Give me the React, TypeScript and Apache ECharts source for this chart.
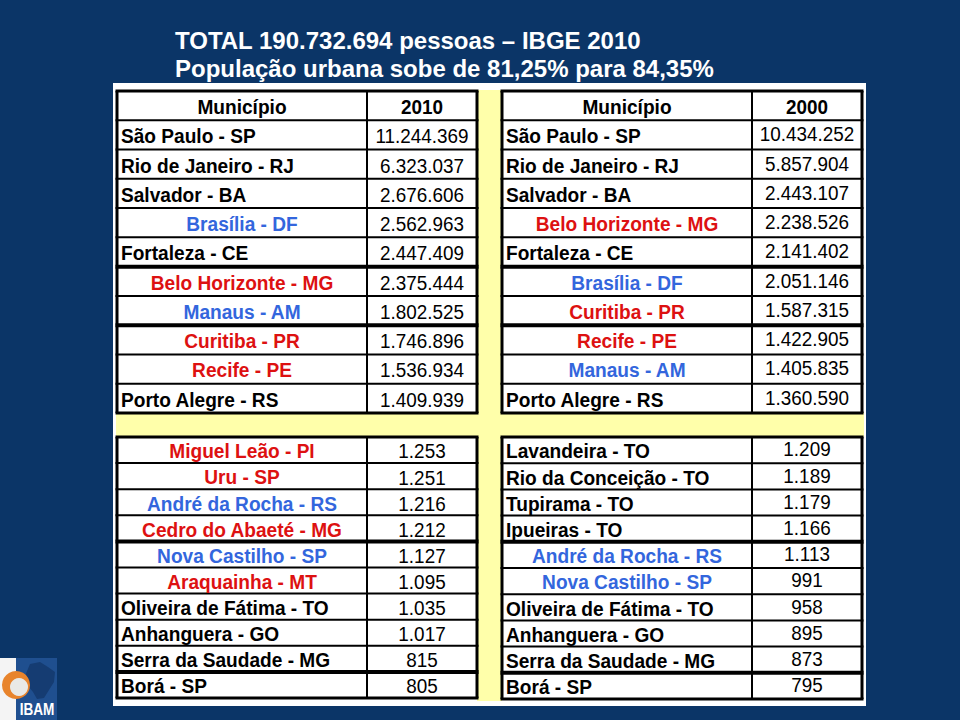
import React, { useEffect, useRef } from "react";
import * as echarts from "echarts";

// ---------- data ----------
const titleLines = [
  "TOTAL 190.732.694 pessoas – IBGE 2010",
  "População urbana sobe de 81,25% para 84,35%",
];
const nameHeader = "Município";
const year2010 = "2010";
const year2000 = "2000";

const largest2010Names = [
  "São Paulo - SP",
  "Rio de Janeiro - RJ",
  "Salvador - BA",
  "Brasília - DF",
  "Fortaleza - CE",
  "Belo Horizonte - MG",
  "Manaus - AM",
  "Curitiba - PR",
  "Recife - PE",
  "Porto Alegre - RS",
];
const largest2010Values = [11244369, 6323037, 2676606, 2562963, 2447409, 2375444, 1802525, 1746896, 1536934, 1409939];
const largest2010Groups = [5, 2, 3];

const largest2000Names = [
  "São Paulo - SP",
  "Rio de Janeiro - RJ",
  "Salvador - BA",
  "Belo Horizonte - MG",
  "Fortaleza - CE",
  "Brasília - DF",
  "Curitiba - PR",
  "Recife - PE",
  "Manaus - AM",
  "Porto Alegre - RS",
];
const largest2000Values = [10434252, 5857904, 2443107, 2238526, 2141402, 2051146, 1587315, 1422905, 1405835, 1360590];
const largest2000Groups = [5, 2, 3];

const smallest2010Names = [
  "Miguel Leão - PI",
  "Uru - SP",
  "André da Rocha - RS",
  "Cedro do Abaeté - MG",
  "Nova Castilho - SP",
  "Araquainha - MT",
  "Oliveira de Fátima - TO",
  "Anhanguera - GO",
  "Serra da Saudade - MG",
  "Borá - SP",
];
const smallest2010Values = [1253, 1251, 1216, 1212, 1127, 1095, 1035, 1017, 815, 805];
const smallest2010Groups = [4, 5, 1];

const smallest2000Names = [
  "Lavandeira - TO",
  "Rio da Conceição - TO",
  "Tupirama - TO",
  "Ipueiras - TO",
  "André da Rocha - RS",
  "Nova Castilho - SP",
  "Oliveira de Fátima - TO",
  "Anhanguera - GO",
  "Serra da Saudade - MG",
  "Borá - SP",
];
const smallest2000Values = [1209, 1189, 1179, 1166, 1113, 991, 958, 895, 873, 795];
const smallest2000Groups = [4, 5, 1];

const blueNames = ["Brasília - DF", "Manaus - AM", "André da Rocha - RS", "Nova Castilho - SP"];
const redNames = [
  "Belo Horizonte - MG",
  "Curitiba - PR",
  "Recife - PE",
  "Miguel Leão - PI",
  "Uru - SP",
  "Cedro do Abaeté - MG",
  "Araquainha - MT",
];

// ---------- styling ----------
const NAVY = "#0b3567";
const BLUE = "#3366dd";
const RED = "#dd1111";
const YELLOW = "#ffffaa";
const SPLIT = 250 / 360;
const FONT = '"Liberation Sans", Arial, Helvetica, sans-serif';

type Kind = "header" | "plain" | "blue" | "red";
type Row = { name: string; value: string; kind: Kind };

function fmt(n: number): string {
  return String(n).replace(/\B(?=(\d{3})+(?!\d))/g, ".");
}

function buildRows(names: string[], values: number[], header?: string): Row[] {
  const rows: Row[] = [];
  if (header) rows.push({ name: nameHeader, value: header, kind: "header" });
  names.forEach((n, i) =>
    rows.push({
      name: n,
      value: fmt(values[i]),
      kind: blueNames.includes(n) ? "blue" : redNames.includes(n) ? "red" : "plain",
    })
  );
  return rows;
}

function breaksFrom(groups: number[], offset: number): number[] {
  const out: number[] = [];
  let acc = offset;
  groups.slice(0, -1).forEach((g) => {
    acc += g;
    out.push(acc - 1);
  });
  return out;
}

function tableSeries(gridIndex: number, rows: Row[], breaks: number[], valueDy: number) {
  return {
    type: "custom",
    xAxisIndex: gridIndex,
    yAxisIndex: gridIndex,
    z: 5,
    silent: true,
    clip: false,
    data: rows.map((_, i) => [0, i]),
    encode: { x: 0, y: 1 },
    renderItem: (params: any, api: any) => {
      const i = params.dataIndex;
      const r = rows[i];
      const c = api.coord([0, i]);
      const s = api.size([1, 1]);
      const left = c[0];
      const w = s[0];
      const h = s[1];
      const cy = c[1];
      const top = cy - h / 2;
      const bottom = cy + h / 2;
      const mid = left + w * SPLIT;
      const right = left + w;
      const last = i === rows.length - 1;
      const line = (x1: number, y1: number, x2: number, y2: number, lw: number) => ({
        type: "line",
        z2: 5,
        shape: { x1, y1, x2, y2 },
        style: { stroke: "#000", lineWidth: lw },
      });
      const children: any[] = [
        { type: "rect", z2: 0, shape: { x: left, y: top, width: w, height: h }, style: { fill: "#ffffff" } },
        line(left, top, left, bottom, 3),
        line(mid, top, mid, bottom, 2),
        line(right, top, right, bottom, 3),
        line(left - 1.5, bottom, right + 1.5, bottom, last ? 3 : breaks.includes(i) ? 4 : 2),
      ];
      if (i === 0) children.push(line(left - 1.5, top, right + 1.5, top, 3));

      const centered = r.kind !== "plain";
      const fill = r.kind === "blue" ? BLUE : r.kind === "red" ? RED : "#000";
      const nx = centered ? (left + mid) / 2 : left + 4;
      const align = centered ? "center" : "left";
      children.push({
        type: "text",
        z2: 6,
        x: nx,
        y: cy + 1,
        scaleX: 0.91,
        style: {
          text: r.name,
          fill,
          font: `bold 21px ${FONT}`,
          align,
          verticalAlign: "middle",
          textAlign: align,
          textVerticalAlign: "middle",
        },
      });
      children.push({
        type: "text",
        z2: 6,
        x: (mid + right) / 2,
        y: cy + 1 + (r.kind === "header" ? 0 : valueDy),
        scaleX: 0.9,
        style: {
          text: r.value,
          fill: "#000",
          font: `${r.kind === "header" ? "bold " : ""}21px ${FONT}`,
          align: "center",
          verticalAlign: "middle",
          textAlign: "center",
          textVerticalAlign: "middle",
        },
      });
      return { type: "group", children };
    },
  };
}

export default function App() {
  const ref = useRef<HTMLDivElement>(null);

  useEffect(() => {
    if (!ref.current) return;
    const chart = echarts.init(ref.current, undefined, { renderer: "svg" });

    const tables = [
      { rows: buildRows(largest2010Names, largest2010Values, year2010), groups: largest2010Groups, offset: 1, dy: 0 },
      { rows: buildRows(largest2000Names, largest2000Values, year2000), groups: largest2000Groups, offset: 1, dy: -2 },
      { rows: buildRows(smallest2010Names, smallest2010Values), groups: smallest2010Groups, offset: 0, dy: 0 },
      { rows: buildRows(smallest2000Names, smallest2000Values), groups: smallest2000Groups, offset: 0, dy: -2 },
    ];
    const grids = [
      { left: 117, top: 91, width: 360, height: 322 },
      { left: 502, top: 91, width: 360, height: 322 },
      { left: 117, top: 437, width: 360, height: 261 },
      { left: 502, top: 437, width: 360, height: 262 },
    ];

    const option: any = {
      animation: false,
      backgroundColor: NAVY,
      grid: grids.map((g) => ({ ...g, containLabel: false })),
      xAxis: grids.map((_, i) => ({ type: "value", gridIndex: i, min: 0, max: 1, show: false })),
      yAxis: tables.map((t, i) => ({
        type: "category",
        gridIndex: i,
        inverse: true,
        data: t.rows.map((r) => r.name),
        show: false,
      })),
      graphic: [
        // title
        {
          type: "text",
          x: 175,
          y: 40,
          z: 1,
          style: {
            text: titleLines[0],
            fill: "#ffffff",
            font: `bold 24px ${FONT}`,
            textAlign: "left",
            textVerticalAlign: "middle",
          },
        },
        {
          type: "text",
          x: 175,
          y: 68,
          z: 1,
          style: {
            text: titleLines[1],
            fill: "#ffffff",
            font: `bold 24px ${FONT}`,
            textAlign: "left",
            textVerticalAlign: "middle",
          },
        },
        // panel
        { type: "rect", z: 0, shape: { x: 113, y: 83, width: 753, height: 623 }, style: { fill: "#ffffff" } },
        { type: "rect", z: 0, shape: { x: 477, y: 90, width: 25, height: 611 }, style: { fill: YELLOW } },
        { type: "rect", z: 0, shape: { x: 116, y: 412, width: 748, height: 25 }, style: { fill: YELLOW } },
        // logo
        { type: "rect", z: 0, shape: { x: 0, y: 658, width: 16, height: 62 }, style: { fill: "#f4f4f4" } },
        { type: "rect", z: 0, shape: { x: 16, y: 658, width: 41, height: 62 }, style: { fill: "#1f4f8f" } },
        {
          type: "polygon",
          z: 0,
          shape: {
            points: [
              [30, 664], [40, 662], [48, 667], [55, 672], [54, 682], [49, 690],
              [44, 698], [37, 699], [33, 692], [28, 686], [25, 676],
            ],
          },
          style: { fill: "#153c72" },
        },
        { type: "circle", z: 1, shape: { cx: 16, cy: 685, r: 14 }, style: { fill: "#e8842c" } },
        { type: "circle", z: 1, shape: { cx: 19, cy: 687, r: 9 }, style: { fill: "#e9e9e6" } },
        {
          type: "text",
          x: 37,
          y: 710,
          z: 1,
          scaleX: 0.85,
          style: {
            text: "IBAM",
            fill: "#ffffff",
            font: `bold 16px ${FONT}`,
            textAlign: "center",
            textVerticalAlign: "middle",
          },
        },
      ],
      series: tables.map((t, i) => tableSeries(i, t.rows, breaksFrom(t.groups, t.offset), t.dy)),
    };

    chart.setOption(option);
    return () => chart.dispose();
  }, []);

  return (
    <div
      ref={ref}
      style={{ position: "fixed", left: 0, top: 0, width: 960, height: 720 }}
    />
  );
}
